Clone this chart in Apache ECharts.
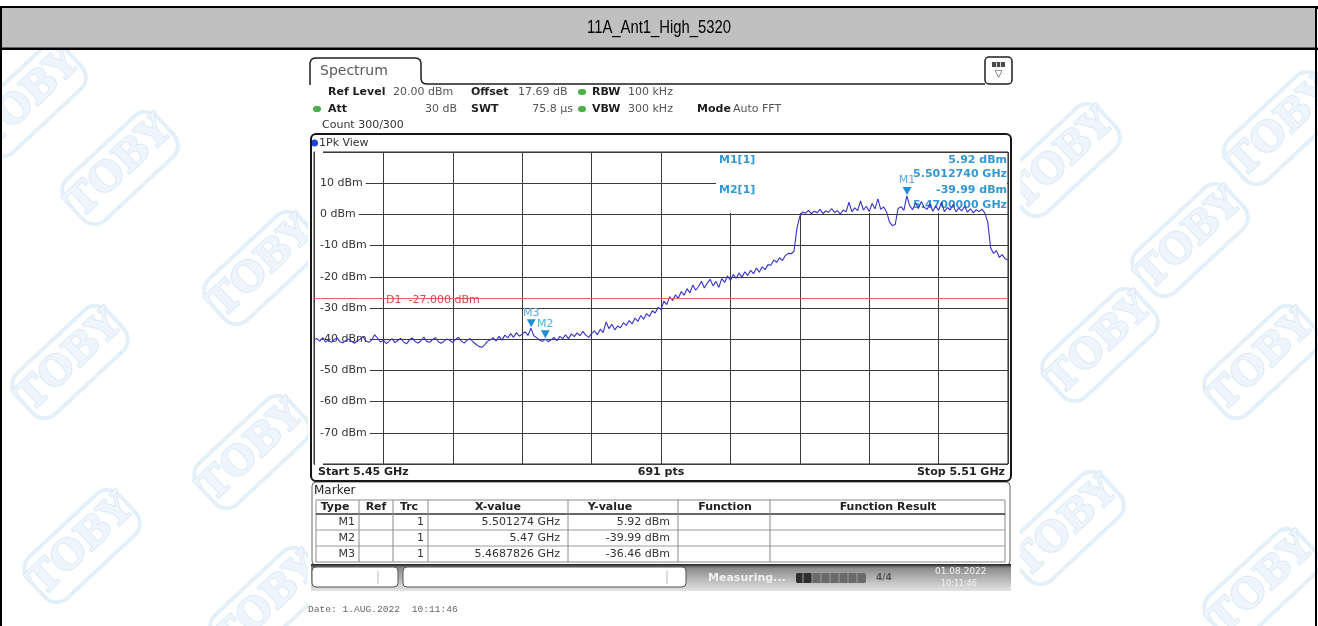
<!DOCTYPE html>
<html>
<head>
<meta charset="utf-8">
<title>11A_Ant1_High_5320</title>
<script src="https://cdn.jsdelivr.net/npm/echarts@6/dist/echarts.min.js"></script>
<style>
  html, body { margin: 0; padding: 0; background: #fff; }
  #chart { width: 1318px; height: 626px; }
</style>
</head>
<body>
<div id="chart"></div>
<script>
// ---- Sweep definition and measured trace (1Pk, dBm) ----
const pageTitle = '11A_Ant1_High_5320';
const sweepStartGHz = 5.45;
const sweepStopGHz = 5.51;
const sweepStepGHz = 0.00025;
const sweepPointsLabel = '691 pts';

const traceDbm = [
  -40.2, -39.8, -40.6, -39.5, -40.9,
  -40.3, -41.0, -40.1, -39.6, -40.8,
  -41.2, -40.4, -39.9, -40.7, -41.3,
  -40.5, -40.0, -39.2, -40.6, -41.0,
  -40.2, -38.6, -39.7, -40.9, -40.3,
  -41.4, -40.6, -39.8, -41.1, -40.4,
  -39.7, -40.9, -41.5, -40.2, -39.6,
  -40.8, -41.2, -40.5, -39.3, -40.7,
  -41.0, -40.1, -39.5, -40.8, -41.3,
  -40.6, -39.9, -40.4, -41.1, -40.0,
  -39.4, -40.7, -41.2, -40.3, -39.8,
  -40.9, -41.6, -42.3, -42.6, -41.8,
  -40.7, -40.2, -39.5, -40.6, -39.1,
  -40.3, -38.7, -39.6, -38.2, -39.4,
  -37.9, -39.0, -38.4, -37.6, -38.8,
  -36.46,
  -38.9, -39.5, -40.3, -40.7,
  -39.99,
  -40.8, -40.2, -39.4, -40.5,
  -39.1, -39.8, -38.6, -39.9, -38.3,
  -39.2, -38.0, -38.9, -37.5, -38.7,
  -39.4, -38.2, -37.3, -38.6, -36.8,
  -37.9, -34.5, -36.6, -35.2, -37.0,
  -35.8, -36.3, -34.7, -35.6, -34.0,
  -35.1, -33.2, -34.3, -32.4, -33.6,
  -31.8, -32.7, -30.9, -31.6, -29.8,
  -30.5, -27.8, -28.9, -26.4, -27.6,
  -25.8, -26.9, -24.7, -25.9, -23.8,
  -25.2, -22.6, -24.3, -23.1, -21.4,
  -23.6, -22.0, -20.8, -22.9, -21.5,
  -23.4, -20.6, -21.8, -19.7, -21.2,
  -19.3, -20.5, -18.8, -20.1, -18.4,
  -19.6, -17.9, -19.0, -17.2, -18.5,
  -16.8, -17.7, -16.1, -16.3, -14.6,
  -15.4, -13.9, -14.8, -13.2, -12.5,
  -12.6, -11.8, -4.5, -0.6, 0.8,
  0.4, 1.3, 0.2, 1.0, 0.5,
  1.6, 0.3, 1.1, 0.7, 1.9,
  0.6, 1.2, 0.1, 1.4, 0.8,
  3.9, 0.9, 2.1, 1.2, 4.3,
  1.4, 2.6, 0.9, 3.5, 1.8,
  5.0, 1.6, 2.4, 0.8, -2.4,
  -3.6, -3.2, 1.9, 2.5, 1.3,
  5.92, 2.8, 1.5, 3.7, 1.9,
  4.1, 2.3, 1.6, 3.4, 1.0,
  2.7, 1.3, 3.9, 0.9, 2.2,
  1.4, 3.2, 0.8, 2.0, 1.1,
  2.6, 0.7, 1.8, 0.5, 1.5,
  0.9, 1.7, 0.4, -2.5, -10.8,
  -12.5, -11.6, -13.8, -12.9, -14.2,
  -14.6
];

// Level axis: ref level 20 dBm, 10 dB/div
const levelMin = -80;
const levelMax = 20;
const levelStep = 10;
const levelTickValues = [10, 0, -10, -20, -30, -40, -50, -60, -70];
const levelTickLabels = ['10 dBm', '0 dBm', '-10 dBm', '-20 dBm', '-30 dBm', '-40 dBm', '-50 dBm', '-60 dBm', '-70 dBm'];

// Display line D1
const limitLineName = 'D1';
const limitLineDbm = -27;

// Markers
const markerNames = ['M1', 'M2', 'M3'];
const markerFreqGHz = [5.501274, 5.47, 5.4687826];
const markerLevelDbm = [5.92, -39.99, -36.46];

// Instrument setup line
const setupRefLevel = '20.00 dBm';
const setupOffset = '17.69 dB';
const setupRbw = '100 kHz';
const setupAtt = '30 dB';
const setupSwt = '75.8 µs';
const setupVbw = '300 kHz';
const setupMode = 'Auto FFT';
const setupCount = 'Count 300/300';
const dateStamp = 'Date: 1.AUG.2022  10:11:46';

// ---- drawing ----
const FONT = '"DejaVu Sans", "Noto Sans", sans-serif';
const MARK_BLUE = '#3597d4';

const tracePoints = traceDbm.map((v, i) => [+(sweepStartGHz + i * sweepStepGHz).toFixed(6), v]);

function txt(x, y, text, o) {
  o = o || {};
  const el = {
    type: 'text', x: x, y: y, z: o.z !== undefined ? o.z : 1, silent: true,
    style: {
      text: text,
      font: (o.weight || 'normal') + ' ' + (o.size || 11) + 'px ' + (o.family || FONT),
      fill: o.color || '#333',
      textAlign: o.align || 'left',
      textVerticalAlign: 'middle'
    }
  };
  if (o.scaleX) el.scaleX = o.scaleX;
  return el;
}
function rect(x, y, w, h, o) {
  o = o || {};
  return {
    type: 'rect', z: o.z !== undefined ? o.z : 1, silent: true,
    shape: { x: x, y: y, width: w, height: h, r: o.r || 0 },
    style: { fill: o.fill || 'none', stroke: o.stroke || null, lineWidth: o.lw || 1 }
  };
}
function hline(x1, x2, y, color, lw, z) {
  return { type: 'line', z: z !== undefined ? z : 1, silent: true,
    shape: { x1: x1, y1: y, x2: x2, y2: y }, style: { stroke: color, lineWidth: lw || 1 } };
}
function vline(x, y1, y2, color, lw, z) {
  return { type: 'line', z: z !== undefined ? z : 1, silent: true,
    shape: { x1: x, y1: y1, x2: x, y2: y2 }, style: { stroke: color, lineWidth: lw || 1 } };
}
function led(x, y) {
  return rect(x - 4, y - 3, 8, 6, { fill: '#4bb04b', r: 3 });
}

const elements = [];

// document watermarks
const stampCenters = [[28, 100], [120, 168], [262, 268], [70, 362], [252, 452], [82, 546], [268, 604],
  [1062, 160], [1282, 128], [1100, 345], [1262, 362], [1066, 528], [1262, 585], [1190, 240]];
stampCenters.forEach(c => {
  elements.push({
    type: 'group', x: c[0], y: c[1], rotation: 0.75, z: -3, silent: true,
    children: [
      { type: 'rect', z: -3, shape: { x: -62, y: -28, width: 124, height: 56, r: 16 },
        style: { fill: 'none', stroke: '#e3eff9', lineWidth: 4 } },
      { type: 'text', z: -3, x: 0, y: 0,
        style: { text: 'TOBY', font: 'bold 40px "DejaVu Serif", serif', fill: '#eef5fc',
          stroke: '#dceaf7', lineWidth: 2, textAlign: 'center', textVerticalAlign: 'middle' } }
    ]
  });
});

// report cell frame and title band
elements.push(rect(0, 6, 1318, 3, { fill: '#000', z: -1 }));
elements.push(rect(1, 8, 1315, 40, { fill: '#c0c0c0', z: -1 }));
elements.push(rect(0, 47.5, 1318, 2.5, { fill: '#000', z: -1 }));
elements.push(rect(0, 6, 2, 620, { fill: '#000', z: -1 }));
elements.push(rect(1315, 6, 2, 620, { fill: '#000', z: -1 }));
elements.push(txt(659, 28, pageTitle, { size: 19, scaleX: 0.78, family: '"Liberation Sans", Arial, sans-serif', color: '#000', align: 'center', z: -1 }));

// analyzer screen backdrop
elements.push(rect(308, 51, 712, 575, { fill: '#fff', z: -2 }));

// Spectrum tab and header rule
elements.push({ type: 'polyline', z: 1, silent: true,
  shape: { points: [[310, 85], [310, 63], [311, 60], [313, 58.5], [316, 58], [415, 58], [418, 58.5], [420, 60],
    [421, 63], [421, 79], [422, 82], [424, 83.5], [427, 84], [985, 84]] },
  style: { fill: null, stroke: '#1e1e1e', lineWidth: 1.5 } });
elements.push(txt(320, 71, 'Spectrum', { size: 14, color: '#5a5a5a' }));
// window menu icon
elements.push(rect(985, 57, 27, 27, { stroke: '#1e1e1e', lw: 1.5, fill: '#fff', r: 4 }));
elements.push(rect(992, 62, 13, 5, { fill: '#4a4a4a' }));
elements.push(vline(996.5, 62, 67, '#ddd', 1));
elements.push(vline(1000.5, 62, 67, '#ddd', 1));
elements.push(txt(998.5, 74, '▽', { size: 10, color: '#333', align: 'center' }));

// setup info
const B = { weight: 'bold', color: '#1e1e1e' };
const V = { color: '#555' };
elements.push(txt(328, 92, 'Ref Level', B));
elements.push(txt(393, 92, setupRefLevel, V));
elements.push(txt(471, 92, 'Offset', B));
elements.push(txt(518, 92, setupOffset, V));
elements.push(led(582, 92));
elements.push(txt(592, 92, 'RBW', B));
elements.push(txt(628, 92, setupRbw, V));
elements.push(led(317, 109));
elements.push(txt(328, 109, 'Att', B));
elements.push(txt(457, 109, setupAtt, Object.assign({ align: 'right' }, V)));
elements.push(txt(471, 109, 'SWT', B));
elements.push(txt(573, 109, setupSwt, Object.assign({ align: 'right' }, V)));
elements.push(led(582, 109));
elements.push(txt(592, 109, 'VBW', B));
elements.push(txt(628, 109, setupVbw, V));
elements.push(txt(697, 109, 'Mode', B));
elements.push(txt(733, 109, setupMode, V));
elements.push(txt(322, 125.5, setupCount, { color: '#333' }));

// diagram window
elements.push(rect(311, 134, 700, 347, { stroke: '#161616', lw: 2, r: 5, z: 3 }));
elements.push({ type: 'circle', z: 1, silent: true, shape: { cx: 314.5, cy: 143, r: 3.5 }, style: { fill: '#2244cc' } });
elements.push(txt(319, 143, '1Pk View', { color: '#333' }));
elements.push(txt(318, 472, 'Start ' + sweepStartGHz + ' GHz', { weight: 'bold', color: '#222' }));
elements.push(txt(661, 472, sweepPointsLabel, { weight: 'bold', color: '#222', align: 'center' }));
elements.push(txt(1005, 472, 'Stop ' + sweepStopGHz + ' GHz', { weight: 'bold', color: '#222', align: 'right' }));

// marker readout block (masks the grid behind it, trace stays on top)
elements.push(rect(716, 153, 291, 60, { fill: '#fff', z: 1 }));
const RO = { weight: 'bold', color: MARK_BLUE };
elements.push(txt(719, 160, markerNames[0] + '[1]', RO));
elements.push(txt(1007, 160, markerLevelDbm[0].toFixed(2) + ' dBm', Object.assign({ align: 'right' }, RO)));
elements.push(txt(1007, 174.5, markerFreqGHz[0].toFixed(7) + ' GHz', Object.assign({ align: 'right' }, RO)));
elements.push(txt(719, 190, markerNames[1] + '[1]', RO));
elements.push(txt(1007, 190, markerLevelDbm[1].toFixed(2) + ' dBm', Object.assign({ align: 'right' }, RO)));
elements.push(txt(1007, 205, markerFreqGHz[1].toFixed(7) + ' GHz', Object.assign({ align: 'right' }, RO)));

// marker table
elements.push(rect(312, 482, 698, 83, { stroke: '#666', lw: 1, fill: '#fff', r: 4 }));
elements.push(txt(314, 491, 'Marker', { size: 12, color: '#222' }));
elements.push(rect(316, 500, 689, 62, { stroke: '#8a8a8a', lw: 1 }));
elements.push(hline(316, 1005, 514, '#333', 1.5));
elements.push(hline(316, 1005, 530, '#9a9a9a', 1));
elements.push(hline(316, 1005, 546, '#9a9a9a', 1));
[359, 393, 428, 568, 678, 770].forEach(x => elements.push(vline(x, 500, 562, '#8a8a8a', 1)));
const TH = { weight: 'bold', color: '#222', align: 'center' };
elements.push(txt(335, 507.5, 'Type', TH));
elements.push(txt(376, 507.5, 'Ref', TH));
elements.push(txt(409, 507.5, 'Trc', TH));
elements.push(txt(498, 507.5, 'X-value', TH));
elements.push(txt(610, 507.5, 'Y-value', TH));
elements.push(txt(725, 507.5, 'Function', TH));
elements.push(txt(888, 507.5, 'Function Result', TH));
const rowY = [522, 538, 554];
markerNames.forEach((n, i) => {
  const R = { align: 'right', color: '#333' };
  elements.push(txt(355, rowY[i], n, R));
  elements.push(txt(424, rowY[i], '1', R));
  elements.push(txt(560, rowY[i], String(markerFreqGHz[i]) + ' GHz', R));
  elements.push(txt(670, rowY[i], markerLevelDbm[i].toFixed(2) + ' dBm', R));
});

// status bar
elements.push({ type: 'rect', z: 1, silent: true, shape: { x: 311, y: 564, width: 700, height: 27 },
  style: { fill: new echarts.graphic.LinearGradient(0, 0, 0, 1, [
    { offset: 0, color: '#1e1e1e' }, { offset: 0.15, color: '#8c8c8c' }, { offset: 1, color: '#e4e4e4' }]) } });
elements.push(rect(312, 567, 86, 20, { fill: '#fff', stroke: '#555', r: 4 }));
elements.push(vline(378, 571, 584, '#bbb', 1));
elements.push(rect(403, 567, 283, 20, { fill: '#fff', stroke: '#555', r: 4 }));
elements.push(vline(667, 571, 584, '#bbb', 1));
elements.push(txt(708, 578, 'Measuring...', { weight: 'bold', color: '#efefef', size: 11 }));
elements.push(rect(796, 573, 70, 10, { fill: '#6a6a6a', r: 2 }));
elements.push(rect(796, 573, 16, 10, { fill: '#2e2e2e', r: 2 }));
[803, 812, 821, 830, 839, 848, 857].forEach(x => elements.push(vline(x, 573, 583, '#9a9a9a', 1)));
elements.push(txt(876, 578, '4/4', { weight: 'bold', color: '#555', size: 9 }));
elements.push(txt(935, 572, '01.08.2022', { color: '#f2f2f2', size: 9 }));
elements.push(txt(941, 584, '10:11:46', { color: '#f2f2f2', size: 8 }));

// date line
elements.push(txt(308, 609, dateStamp, { size: 9.6, color: '#666', family: '"Liberation Mono", "DejaVu Sans Mono", monospace' }));

const chart = echarts.init(document.getElementById('chart'), null, { renderer: 'canvas', width: 1318, height: 626 });

chart.setOption({
  animation: false,
  backgroundColor: '#ffffff',
  grid: { left: 314, top: 152, width: 694, height: 312, show: true, borderColor: '#262626', borderWidth: 1, backgroundColor: 'transparent' },
  xAxis: [
    { type: 'value', min: sweepStartGHz, max: sweepStopGHz, show: false },
    { type: 'value', min: 0, max: 10, interval: 1, position: 'bottom',
      axisLine: { show: false }, axisTick: { show: false }, axisLabel: { show: false },
      splitLine: { show: true, lineStyle: { color: '#3a3a3a', width: 1 } } }
  ],
  yAxis: [
    { type: 'value', min: levelMin, max: levelMax, interval: levelStep,
      axisLine: { show: false }, axisTick: { show: false }, axisLabel: { show: false },
      splitLine: { show: true, lineStyle: { color: '#3a3a3a', width: 1 } } },
    { type: 'value', min: levelMin, max: levelMax, interval: levelStep, position: 'left', z: 1,
      axisLine: { show: false }, axisTick: { show: false }, splitLine: { show: false },
      axisLabel: {
        inside: true, margin: 1, color: '#333', fontFamily: FONT, fontSize: 11,
        backgroundColor: '#fff', padding: [1, 3, 1, 5],
        formatter: v => { const k = levelTickValues.indexOf(v); return k < 0 ? '' : levelTickLabels[k]; }
      } }
  ],
  series: [{
    name: '1Pk View',
    type: 'line',
    xAxisIndex: 0,
    yAxisIndex: 0,
    data: tracePoints,
    showSymbol: false,
    silent: true,
    z: 2,
    lineStyle: { color: '#3333c8', width: 1.1 },
    markLine: {
      silent: true, symbol: 'none', animation: false,
      lineStyle: { color: '#e36666', width: 1, type: 'solid' },
      label: { show: true, position: 'insideStartTop', distance: [72, -7],
        formatter: limitLineName + '  ' + limitLineDbm.toFixed(3) + ' dBm',
        color: '#d44a4a', fontFamily: FONT, fontSize: 11 },
      data: [{ yAxis: limitLineDbm }]
    },
    markPoint: {
      silent: true, animation: false,
      symbol: 'triangle', symbolSize: [9, 8], symbolRotate: 180, symbolOffset: [0, -5],
      itemStyle: { color: '#1f8fd3' },
      label: { show: true, position: 'top', distance: 1, formatter: '{b}',
        color: '#5aa9dc', fontFamily: FONT, fontSize: 11 },
      data: markerNames.map((n, i) => ({ name: n, coord: [markerFreqGHz[i], markerLevelDbm[i]] }))
    }
  }],
  graphic: { elements: elements }
});
</script>
</body>
</html>
